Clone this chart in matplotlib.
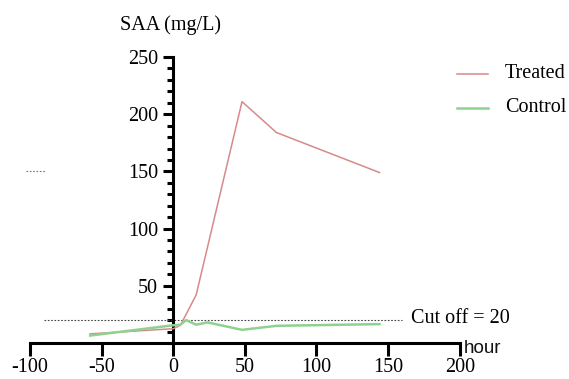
import matplotlib
matplotlib.use("Agg")
import matplotlib.pyplot as plt
from matplotlib.ticker import MultipleLocator, FuncFormatter
from matplotlib.lines import Line2D

hours_treated = [-58, 0, 5, 16, 48, 72, 144]
saa_treated = [8, 12.5, 15.5, 42, 211, 184, 149]
hours_control = [-58, 0, 5, 9, 16, 24, 48, 72, 144]
saa_control = [6.5, 15.5, 16, 20, 16, 18, 11.5, 15, 16.5]
cutoff = 20
xticks = [-100, -50, 0, 50, 100, 150, 200]
yticks = [50, 100, 150, 200, 250]
series_names = ["Treated", "Control"]
series_colors = ["#d68a8a", "#8fd18f"]

serif = ["Liberation Serif", "DejaVu Serif"]
W, H = 569, 379
fig = plt.figure(figsize=(W / 100, H / 100), dpi=100)
ax = fig.add_axes([0.0527, 0.095, 0.7553, 0.7546])
ax.set_xlim(-100, 200)
ax.set_ylim(0, 250)

for s in ["top", "right"]:
    ax.spines[s].set_visible(False)
ax.spines["left"].set_position(("data", 0))
ax.spines["bottom"].set_position(("data", 0))
ax.spines["left"].set_linewidth(2.2)
ax.spines["bottom"].set_linewidth(2.2)
ax.spines["left"].set_bounds(0, 250)
ax.spines["bottom"].set_bounds(-100, 200)

ax.set_xticks(xticks)
ax.set_yticks(yticks)
ax.xaxis.set_major_formatter(FuncFormatter(lambda v, p: f"{int(v)}"))
ax.yaxis.set_major_formatter(FuncFormatter(lambda v, p: f"{int(v)}"))
ax.yaxis.set_minor_locator(MultipleLocator(10))
ax.tick_params(axis="x", direction="out", length=9, width=2.2, pad=2)
ax.tick_params(axis="y", which="major", direction="out", length=7, width=2.2, pad=4)
ax.tick_params(axis="y", which="minor", direction="out", length=4, width=2.2)
for lab in ax.get_xticklabels() + ax.get_yticklabels():
    lab.set_fontfamily(serif)
    lab.set_fontsize(14.5)

ax.plot(hours_treated, saa_treated, color=series_colors[0], lw=1.1, zorder=3)
ax.plot(hours_control, saa_control, color=series_colors[1], lw=1.8, zorder=3)

ax.plot([-90.5, 160], [cutoff, cutoff], color="#444444", lw=0.8, ls=(0, (1.5, 1.5)), zorder=2)
ax.text(166, cutoff + 1, "Cut off = 20", fontfamily=serif, fontsize=14.5, va="center", ha="left")
ax.plot([-103, -89], [150, 150], color="#777777", lw=0.8, ls=(0, (1.5, 1.5)), clip_on=False)

ax.text(-37, 278, "SAA (mg/L)", fontfamily=serif, fontsize=14.5, va="center", ha="left")
ax.text(203, -5, "hour", fontfamily=["Liberation Sans", "DejaVu Sans"], fontsize=13.5,
        va="center", ha="left", color="#111111")

# legend drawn in figure pixel coordinates
leg_y = [74, 108]
for name, col, yp, lw in zip(series_names, series_colors, leg_y, [1.1, 1.8]):
    fy = 1 - yp / H
    fig.add_artist(Line2D([457 / W, 488 / W], [fy, fy], color=col, lw=lw))
    fig.text(505 / W, fy, name, fontfamily=serif, fontsize=14.5, va="center", ha="left")

fig.savefig("out.png", dpi=100)
